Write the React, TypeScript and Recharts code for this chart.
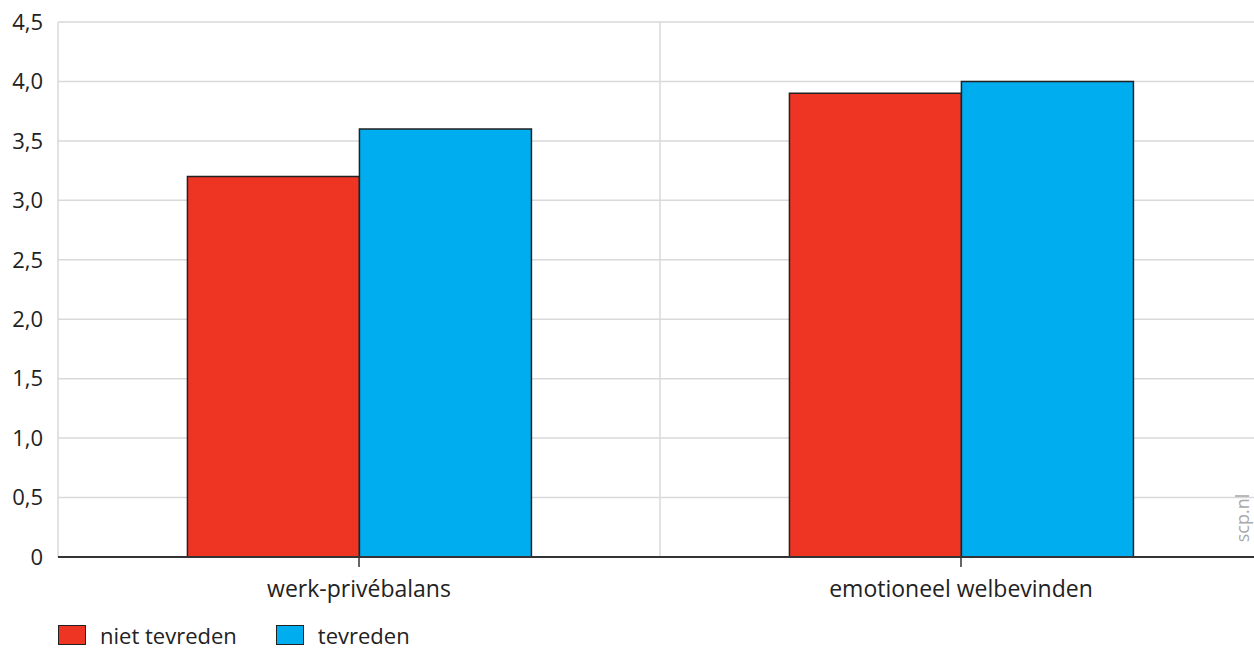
import { BarChart, Bar, XAxis, YAxis, CartesianGrid, Legend } from 'recharts';

const categories = ['werk-privébalans', 'emotioneel welbevinden'];
const nietTevreden = [3.2, 3.9];
const tevreden = [3.6, 4.0];
const yTicks = [0, 0.5, 1, 1.5, 2, 2.5, 3, 3.5, 4, 4.5];

const seriesNames = ['niet tevreden', 'tevreden'];
const RED = '#ee3524';
const BLUE = '#00aeef';
const FONT = '"Open Sans", "Noto Sans", sans-serif';

const chartData = categories.map((name, i) => ({
  name,
  niet: nietTevreden[i],
  tev: tevreden[i],
}));

function formatTick(v: number): string {
  if (v === 0) return '0';
  return v.toFixed(1).replace('.', ',');
}

function LegendContent() {
  const colors = [RED, BLUE];
  return (
    <div
      style={{
        display: 'flex',
        alignItems: 'center',
        height: 24,
        lineHeight: '24px',
        fontFamily: FONT,
        fontSize: 22,
        color: '#222',
      }}
    >
      {seriesNames.map((n, i) => (
        <div key={n} style={{ display: 'flex', alignItems: 'center', marginRight: 39 }}>
          <span
            style={{
              display: 'inline-block',
              boxSizing: 'border-box',
              width: 28,
              height: 20,
              background: colors[i],
              border: '1.5px solid #222',
              marginRight: 14,
            }}
          />
          {n}
        </div>
      ))}
    </div>
  );
}

export default function App() {
  return (
    <div style={{ position: 'absolute', left: 0, top: 0, width: 1254, height: 651, overflow: 'hidden', background: '#fff' }}>
      <BarChart
        width={1262}
        height={651}
        data={chartData}
        margin={{ top: 22, right: 0, left: 0, bottom: 4 }}
        barGap={0}
        barCategoryGap="21.5%"
      >
        <CartesianGrid
          stroke="#d9d9d9"
          strokeWidth={1.5}
          verticalCoordinatesGenerator={({ offset }: any) => [offset.left, offset.left + offset.width / 2]}
        />
        <XAxis
          dataKey="name"
          height={66}
          axisLine={{ stroke: '#333', strokeWidth: 2 }}
          tickLine={{ stroke: '#333', strokeWidth: 1.5 }}
          tickSize={10}
          tickMargin={14}
          tick={{ fill: '#222', fontSize: 23, fontFamily: FONT }}
        />
        <YAxis
          width={58}
          domain={[0, 4.5]}
          ticks={yTicks}
          tickFormatter={formatTick}
          axisLine={false}
          tickLine={false}
          tickSize={0}
          tickMargin={15}
          tick={{ fill: '#222', fontSize: 22, fontFamily: FONT }}
        />
        <Legend
          verticalAlign="bottom"
          align="left"
          height={24}
          wrapperStyle={{ left: 58, bottom: 4 }}
          content={<LegendContent />}
        />
        <Bar dataKey="niet" name={seriesNames[0]} fill={RED} stroke="#222" strokeWidth={1.5} isAnimationActive={false} />
        <Bar dataKey="tev" name={seriesNames[1]} fill={BLUE} stroke="#222" strokeWidth={1.5} isAnimationActive={false} />
      </BarChart>
      <div
        style={{
          position: 'absolute',
          left: 1242,
          top: 518,
          transform: 'translate(-50%, -50%) rotate(-90deg)',
          fontFamily: FONT,
          fontSize: 18,
          color: '#aaa',
          whiteSpace: 'nowrap',
        }}
      >
        scp.nl
      </div>
    </div>
  );
}
